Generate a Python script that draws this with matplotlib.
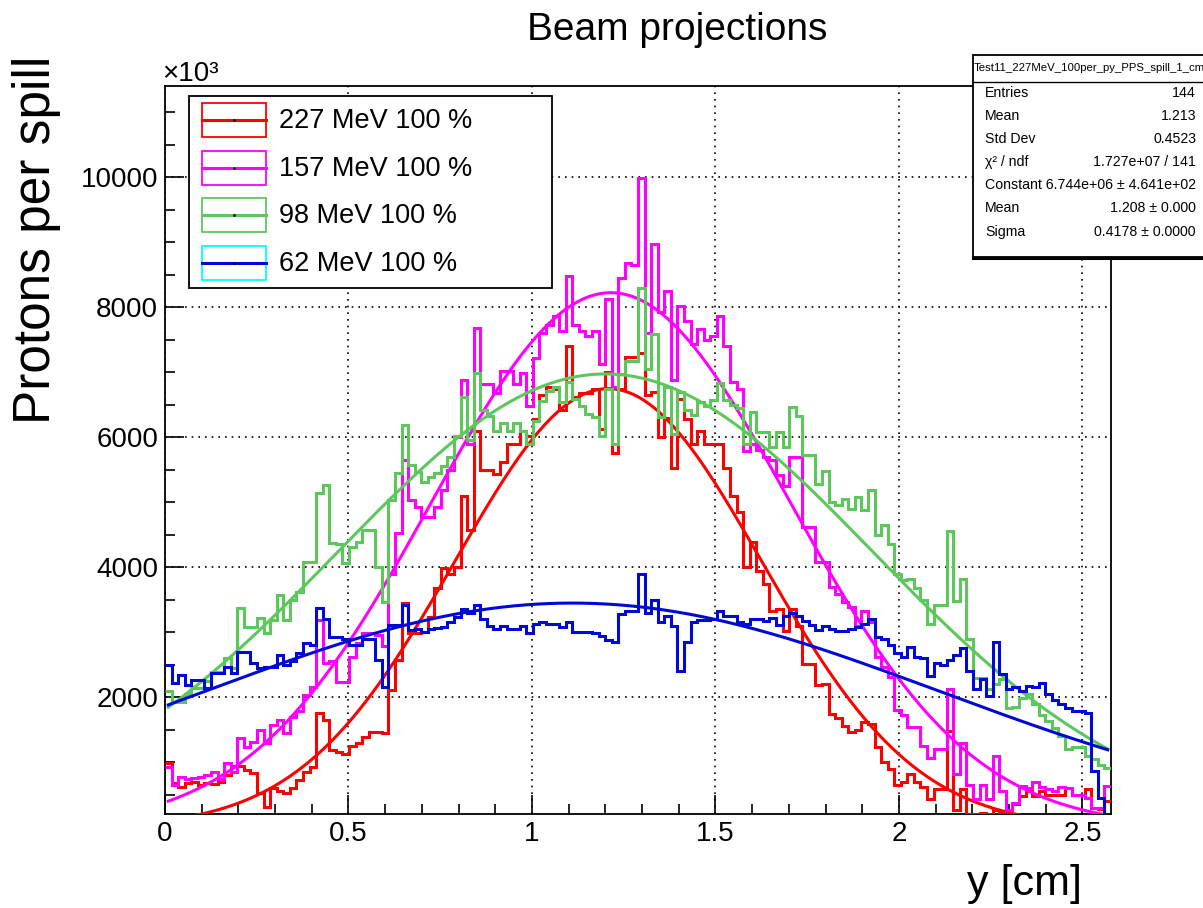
import numpy as np
import matplotlib
matplotlib.use('Agg')
import matplotlib.pyplot as plt
from matplotlib.ticker import MultipleLocator, FormatStrFormatter
from matplotlib.patches import Rectangle
from matplotlib.lines import Line2D

plt.rcParams['font.family'] = ['Liberation Sans', 'DejaVu Sans']

W, H = 1203, 908

# histogram binning (144 bins)
n_bins = 144
x_lo, x_hi = 0.0, 2.578

labels = ['227 MeV 100 %', '157 MeV 100 %', '98 MeV 100 %', '62 MeV 100 %']
line_colors = ['#ff0000', '#ff00ff', '#5cc85c', '#0008d8']
box_colors = ['#ff0000', '#ff00ff', '#5cc85c', '#00ffff']

# protons per spill (x10^3) per bin
red_vals = [
    985, 680, 620, 680, 700, 650, 680, 660, 700, 800, 940, 940,
    880, 830, 520, 310, 600, 560, 520, 600, 720, 850, 920, 1750,
    1650, 1180, 1150, 1120, 1250, 1290, 1380, 1460, 1460, 1450, 2110, 2570,
    3450, 2985, 2985, 3000, 3230, 3675, 3985, 3900, 4000, 5100, 4570, 6090,
    5490, 5490, 5430, 5620, 5890, 5890, 6090, 6020, 6280, 6650, 6770, 6740,
    6410, 7400, 6610, 6670, 6670, 6740, 6120, 7000, 5760, 6740, 7230, 7230,
    7300, 6640, 6700, 6000, 6300, 5530, 6580, 6280, 5890, 6090, 5890, 5890,
    5890, 5530, 5100, 4840, 4000, 4390, 3940, 3740, 3320, 3350, 3020, 3350,
    3100, 2510, 2510, 2180, 2200, 1740, 1670, 1560, 1460, 1490, 1620, 1590,
    1230, 1000, 900, 640, 690, 820, 690, 620, 430, 590, 590, 1470,
    260, 590, 200, 200, 220, 200, 260, 230, 260, 350, 480, 550,
    480, 550, 500, 500, 500, 600, 500, 500, 580, 300, 280, 400]

magenta_vals = [
    920, 650, 770, 740, 760, 770, 800, 850, 740, 985, 850, 1370,
    1230, 1310, 1490, 1290, 1570, 1650, 1450, 1700, 1790, 2030, 2150, 3180,
    2520, 2550, 2230, 2230, 2615, 2830, 2985, 2985, 2950, 2780, 3900, 4520,
    5650, 5030, 4920, 4770, 4770, 4920, 5180, 5490, 6000, 6880, 5890, 7670,
    6810, 6810, 6680, 7010, 7010, 6810, 6980, 6480, 7210, 7600, 7720, 7860,
    7630, 8480, 7720, 7630, 7560, 7630, 7130, 8120, 6770, 8450, 8680, 8640,
    9990, 7600, 8970, 7920, 8250, 6870, 8020, 7790, 7430, 7660, 7490, 7560,
    7860, 7400, 6850, 6740, 5790, 5900, 5800, 5700, 5650, 5420, 5250, 5700,
    5700, 4610, 4610, 4080, 4080, 3690, 3590, 3460, 3380, 3100, 3330, 3150,
    2620, 2460, 2310, 1800, 1720, 1540, 1540, 1250, 1060, 1200, 1200, 2130,
    810, 1300, 650, 430, 650, 430, 1090, 560, 260, 370, 630, 600,
    700, 620, 580, 560, 620, 600, 500, 500, 450, 300, 300, 630]

green_vals = [
    2100, 1930, 1930, 2050, 2140, 2140, 2250, 2380, 2380, 2600, 2450, 3370,
    3080, 3080, 3215, 2985, 3180, 3570, 3180, 3490, 3615, 4080, 4080, 5140,
    5260, 4370, 4350, 4060, 4310, 4385, 4570, 4570, 4000, 3460, 5030, 5445,
    6180, 5570, 5460, 5310, 5380, 5440, 5550, 5690, 6020, 6610, 5950, 6980,
    6420, 6320, 6090, 6220, 6090, 6220, 6090, 5890, 6250, 6550, 6710, 6770,
    6540, 6840, 6580, 6480, 6350, 6310, 6020, 6740, 5890, 6970, 7170, 7170,
    8300, 7040, 7590, 6310, 6770, 6050, 6700, 6410, 6340, 6540, 6470, 6570,
    6830, 6570, 6500, 6450, 5900, 6380, 6070, 6070, 5840, 6070, 5840, 6460,
    6320, 5730, 5730, 5280, 5480, 5000, 4950, 5050, 4900, 5080, 4870, 5180,
    4490, 4640, 4360, 3900, 3800, 3820, 3670, 3500, 3120, 3420, 3420, 4550,
    3480, 3810, 2900, 2300, 2300, 2130, 2200, 2270, 1830, 1850, 1990, 2050,
    1900, 1730, 1630, 1530, 1400, 1200, 1230, 1230, 1090, 1040, 960, 910]

blue_vals = [
    2490, 2215, 2340, 2185, 2260, 2260, 2140, 2370, 2370, 2460, 2370, 2690,
    2690, 2520, 2450, 2460, 2460, 2645, 2500, 2550, 2680, 2830, 2800, 3370,
    3200, 2920, 2920, 2900, 2800, 2800, 2900, 2900, 2570, 2150, 3110, 3110,
    3415, 3030, 3050, 3000, 3050, 3060, 3070, 3150, 3230, 3350, 3300, 3420,
    3200, 3100, 3050, 3100, 3050, 3050, 3100, 2980, 3130, 3150, 3130, 3130,
    3080, 3160, 3000, 3000, 3000, 2980, 2940, 2880, 2840, 3280, 3320, 3320,
    3900, 3300, 3500, 3150, 3250, 3100, 2400, 2850, 3150, 3180, 3180, 3200,
    3330, 3250, 3250, 3150, 3120, 3200, 3200, 3170, 3220, 3110, 3250, 3300,
    3250, 3170, 3110, 3030, 3100, 3050, 3020, 3020, 3050, 3080, 3130, 3200,
    2920, 2900, 2800, 2670, 2620, 2770, 2620, 2600, 2320, 2520, 2490, 2570,
    2650, 2760, 2400, 2130, 2270, 2020, 2850, 2350, 2130, 2160, 2090, 2170,
    2150, 2220, 2040, 1960, 1890, 1830, 1780, 1780, 1750, 860, 450, 200]

# gaussian fit parameters (constant in units of 10^3)
fit_const = [6744, 8220, 6970, 3445]
fit_mean = [1.208, 1.215, 1.20, 1.11]
fit_sigma = [0.4178, 0.49, 0.73, 1.00]

stat_title = 'Test11_227MeV_100per_py_PPS_spill_1_cm'
stat_names = ['Entries', 'Mean', 'Std Dev', 'χ² / ndf', 'Constant', 'Mean', 'Sigma']
stat_values = ['144', '1.213', '0.4523', '1.727e+07 / 141',
               '6.744e+06 ± 4.641e+02', '1.208 ± 0.000', '0.4178 ± 0.0000']


def fx(px):
    return px / W


def fy(py):
    return 1 - py / H


fig = plt.figure(figsize=(W / 100, H / 100), dpi=100)
ax = fig.add_axes([fx(165), fy(814), fx(1111) - fx(165), (814 - 86) / H])

edges = np.linspace(x_lo, x_hi, n_bins + 1)
half = (edges[1] - edges[0]) / 2
xf = np.linspace(edges[0] + half, edges[-1] - half, 500)

all_vals = [red_vals, magenta_vals, green_vals, blue_vals]
for vals, col, a, m, s in zip(all_vals, line_colors, fit_const, fit_mean, fit_sigma):
    ax.stairs(vals, edges, baseline=None, color=col, lw=2.2, zorder=3)
    ax.plot(xf, a * np.exp(-0.5 * ((xf - m) / s) ** 2), color=col, lw=2.2, zorder=3)

ax.set_xlim(x_lo, x_hi)
ax.set_ylim(200, 11400)
ax.xaxis.set_major_locator(MultipleLocator(0.5))
ax.xaxis.set_minor_locator(MultipleLocator(0.1))
ax.yaxis.set_major_locator(MultipleLocator(2000))
ax.yaxis.set_minor_locator(MultipleLocator(500))
ax.xaxis.set_major_formatter(FormatStrFormatter('%g'))
ax.yaxis.set_major_formatter(FormatStrFormatter('%d'))
ax.tick_params(which='both', direction='in', top=False, right=False, width=1.2,
               labelsize=20, pad=5)
ax.tick_params(which='major', length=14)
ax.tick_params(which='minor', length=7)
ax.grid(True, which='major', color='black', linestyle=(0, (1, 3)), lw=1.2)
for sp in ax.spines.values():
    sp.set_linewidth(1.3)

fig.text(fx(677), fy(30), 'Beam projections', size=28, ha='center', va='center')
fig.text(fx(37), fy(240), 'Protons per spill', size=37, rotation=90, ha='center', va='center')
fig.text(fx(1082), fy(884), 'y [cm]', size=31, ha='right', va='center')
fig.text(fx(162), fy(81), '×10³', size=20, ha='left', va='baseline')

# legend
fig.add_artist(Rectangle((fx(189), fy(288)), fx(552) - fx(189), (288 - 96) / H,
                         transform=fig.transFigure, facecolor='white',
                         edgecolor='black', lw=1.3, zorder=5))
for i, (lab, lc, bc) in enumerate(zip(labels, line_colors, box_colors)):
    yc = 120 + i * 47.7
    fig.add_artist(Rectangle((fx(202), fy(yc + 17)), fx(266) - fx(202), 34 / H,
                             transform=fig.transFigure, facecolor='none',
                             edgecolor=bc, lw=1.3, zorder=6))
    fig.add_artist(Line2D([fx(202), fx(266)], [fy(yc), fy(yc)], transform=fig.transFigure,
                          color=lc, lw=2.2, zorder=7))
    fig.add_artist(Line2D([fx(234)], [fy(yc)], transform=fig.transFigure, marker='.',
                          ms=2, color='black', zorder=8))
    fig.text(fx(279), fy(yc + 1), lab, size=19.5, ha='left', va='center', zorder=8)

# stats box
fig.add_artist(Rectangle((fx(973), fy(257)), fx(1240) - fx(973), (257 - 55) / H,
                         transform=fig.transFigure, facecolor='white',
                         edgecolor='black', lw=1.3, zorder=5))
fig.add_artist(Line2D([fx(973), fx(1203)], [fy(82), fy(82)], transform=fig.transFigure,
                      color='black', lw=1.0, zorder=6))
fig.add_artist(Line2D([fx(973), fx(1203)], [fy(258), fy(258)], transform=fig.transFigure,
                      color='black', lw=2.2, zorder=6))
fig.text(fx(1089), fy(68), stat_title, size=8.2, ha='center', va='center', zorder=7)
for i, (nm, vl) in enumerate(zip(stat_names, stat_values)):
    yr = 93 + i * 23.1
    if nm == 'Constant':
        fig.text(fx(985), fy(yr), nm + ' ' + vl, size=10.2, ha='left', va='center', zorder=7)
        continue
    fig.text(fx(985), fy(yr), nm, size=10.2, ha='left', va='center', zorder=7)
    fig.text(fx(1196), fy(yr), vl, size=10.2, ha='right', va='center', zorder=7)

fig.savefig('out.png', dpi=100)
